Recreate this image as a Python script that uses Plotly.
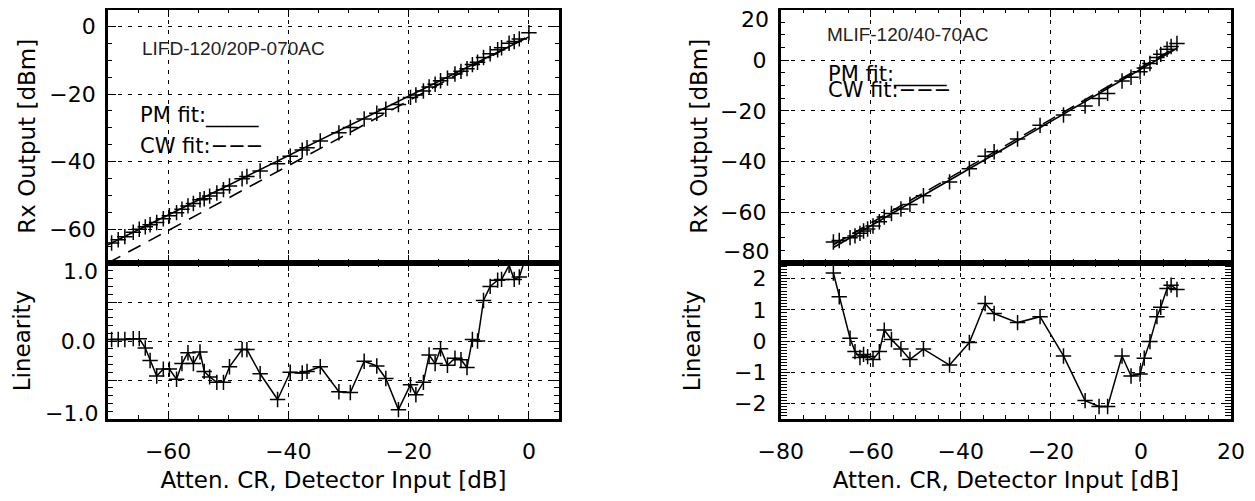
import plotly.graph_objects as go

# ---------------- data ----------------
# Left instrument: LIFD-120/20P-070AC
left_x = [-69.4, -68.3, -67.2, -65.8, -64.8, -63.8, -63.0, -61.9, -60.8, -59.8,
          -58.6, -57.7, -56.7, -55.8, -54.7, -54.0, -53.1, -51.9, -50.8, -49.8,
          -47.7, -46.9, -44.7, -41.8, -39.7, -37.7, -36.9, -34.7, -31.6, -29.7,
          -27.4, -25.3, -23.8, -21.7, -19.7, -18.8, -17.55, -16.6, -15.6, -14.7,
          -13.55, -12.3, -11.3, -10.3, -9.4, -8.55, -7.55, -6.45, -5.2, -4.55,
          -3.3, -2.45, -1.6, 0.0]
left_rx = [-64.1, -63.1, -62.2, -60.9, -60.0, -59.3, -58.7, -58.0, -56.9, -56.0,
           -55.1, -54.1, -53.1, -52.4, -51.3, -51.0, -50.2, -49.3, -48.3, -47.2,
           -45.1, -44.4, -42.8, -40.6, -38.4, -36.6, -35.9, -33.9, -31.5, -29.9,
           -27.4, -25.7, -24.5, -23.1, -21.0, -20.3, -19.1, -17.9, -17.1, -16.1,
           -15.3, -14.1, -13.3, -12.5, -11.3, -10.6, -9.2, -8.1, -6.9, -6.3,
           -5.0, -4.5, -3.7, -1.9]
left_lin = [0.02, 0.02, 0.02, 0.03, 0.03, -0.09, -0.25, -0.45, -0.36, -0.36,
            -0.49, -0.29, -0.15, -0.29, -0.14, -0.39, -0.46, -0.53, -0.53, -0.33,
            -0.11, -0.11, -0.42, -0.75, -0.40, -0.41, -0.39, -0.33, -0.65, -0.66,
            -0.26, -0.32, -0.48, -0.88, -0.56, -0.69, -0.53, -0.18, -0.29, -0.10,
            -0.31, -0.22, -0.24, -0.34, 0.02, 0.00, 0.52, 0.70, 0.78, 0.79,
            0.97, 0.79, 0.82, 1.20]
left_pm_fit_x = [-70.0, 0.0]
left_pm_fit_y = [-64.6, -3.1]
left_cw_fit_x = [-70.0, 0.0]
left_cw_fit_y = [-70.0, -2.8]

# Right instrument: MLIF-120/40-70AC
right_x = [-68.3, -67.0, -64.6, -63.5, -62.4, -61.6, -60.7, -59.5, -58.1, -57.0,
           -55.4, -53.3, -51.3, -48.3, -42.5, -38.1, -34.6, -32.6, -27.4, -22.4,
           -17.2, -12.4, -9.3, -7.4, -4.2, -2.2, -0.2, 0.74, 2.0, 3.55,
           4.4, 5.8, 6.7, 8.0]
right_rx = [-71.7, -71.1, -70.0, -69.3, -68.3, -67.4, -66.6, -65.4, -63.7, -61.9,
            -60.5, -58.7, -56.9, -53.5, -48.0, -42.8, -37.9, -36.1, -31.1, -25.7,
            -21.6, -18.1, -15.1, -13.1, -8.2, -6.7, -4.6, -3.1, -1.3, 1.1,
            2.3, 4.3, 5.4, 6.6]
right_lin = [2.18, 1.42, 0.09, -0.34, -0.53, -0.43, -0.50, -0.59, -0.34, 0.35,
             0.05, -0.26, -0.59, -0.26, -0.77, -0.05, 1.20, 0.88, 0.59, 0.78,
             -0.48, -1.91, -2.10, -2.10, -0.48, -1.12, -1.06, -0.55, -0.02, 0.78,
             1.08, 1.68, 1.79, 1.65]
right_pm_fit_x = [-68.3, 8.0]
right_pm_fit_y = [-73.9, 4.7]
right_cw_fit_x = [-68.3, 8.0]
right_cw_fit_y = [-72.8, 5.3]

left_label = "LIFD-120/20P-070AC"
right_label = "MLIF-120/40-70AC"
x_title = "Atten. CR, Detector Input [dB]"
y_top_title = "Rx Output [dBm]"
y_bot_title = "Linearity"

left_xticks = [-60, -40, -20, 0]
right_xticks = [-80, -60, -40, -20, 0, 20]
left_top_yticks = [0, -20, -40, -60]
left_bot_yticks = [-1.0, -0.5, 0.0, 0.5, 1.0]
left_bot_ytext = ["", "", "0.0", "", ""]
right_top_yticks = [20, 0, -20, -40, -60, -80]
right_top_ytext = ["", "0", "\u221220", "\u221240", "\u221260", ""]
right_bot_yticks = [-2, -1, 0, 1, 2]


def mtxt(v):
    s = ("%g" % abs(v))
    return ("\u2212" + s) if v < 0 else s


# ---------------- styling ----------------
# the page body has an 8px margin, so the figure is laid out in a 1239x485 box
OFF = 8
W, H = 1255 - 2 * OFF, 501 - 2 * OFF
FONT = "DejaVu Sans"
TICK_SIZE = 22
TITLE_SIZE = 23

def fx(p):
    return (p - OFF) / W

def fy(p):
    return 1 - (p - OFF) / H

dom_xl = [fx(108), fx(559)]
dom_xr = [fx(780.7), fx(1231)]
dom_top = [fy(263), fy(9.5)]
dom_bot = [fy(419), fy(263)]

def axis(**kw):
    base = dict(showline=True, linewidth=2.6, linecolor="black", mirror="allticks",
                ticks="inside", ticklen=8, tickwidth=1.4, tickcolor="black",
                showgrid=True, gridcolor="black", gridwidth=1, griddash="4px,6px",
                zeroline=False, automargin=False,
                tickfont=dict(family=FONT, size=TICK_SIZE, color="black"),
                fixedrange=True)
    base.update(kw)
    return base

marker = dict(symbol="cross-thin", size=11, color="black",
              line=dict(width=1.5, color="black"))

fig = go.Figure()

# left bottom (x, y)
fig.add_trace(go.Scatter(x=left_x, y=left_lin, mode="lines+markers", marker=marker,
                         line=dict(color="black", width=1.5), xaxis="x", yaxis="y"))
# left top (x2, y2)
fig.add_trace(go.Scatter(x=left_pm_fit_x, y=left_pm_fit_y, mode="lines",
                         line=dict(color="black", width=1.6), xaxis="x2", yaxis="y2"))
fig.add_trace(go.Scatter(x=left_cw_fit_x, y=left_cw_fit_y, mode="lines",
                         line=dict(color="black", width=1.6, dash="14px,9px"),
                         xaxis="x2", yaxis="y2"))
fig.add_trace(go.Scatter(x=left_x, y=left_rx, mode="markers", marker=marker,
                         xaxis="x2", yaxis="y2"))
# right bottom (x3, y3)
fig.add_trace(go.Scatter(x=right_x, y=right_lin, mode="lines+markers", marker=marker,
                         line=dict(color="black", width=1.5), xaxis="x3", yaxis="y3"))
# right top (x4, y4)
fig.add_trace(go.Scatter(x=right_pm_fit_x, y=right_pm_fit_y, mode="lines",
                         line=dict(color="black", width=1.6), xaxis="x4", yaxis="y4"))
fig.add_trace(go.Scatter(x=right_cw_fit_x, y=right_cw_fit_y, mode="lines",
                         line=dict(color="black", width=1.6, dash="14px,8px"),
                         xaxis="x4", yaxis="y4"))
fig.add_trace(go.Scatter(x=right_x, y=right_rx, mode="markers", marker=marker,
                         xaxis="x4", yaxis="y4"))

title_font = dict(family=FONT, size=TITLE_SIZE, color="black")
minor5 = dict(ticks="inside", dtick=5, tick0=0, ticklen=4, tickwidth=1.2,
              tickcolor="black", showgrid=False)

fig.update_layout(
    template="none",
    width=W, height=H, margin=dict(l=0, r=0, t=0, b=0, autoexpand=False),
    paper_bgcolor="white", plot_bgcolor="white", showlegend=False,
    xaxis=axis(domain=dom_xl, range=[-70, 5], anchor="y",
               tickvals=left_xticks, ticktext=[mtxt(v) for v in left_xticks],
               ticklabelstandoff=11, minor=minor5,
               title=dict(text=x_title, font=title_font, standoff=9)),
    yaxis=axis(domain=dom_bot, range=[-1.0, 1.0], anchor="x",
               tickvals=left_bot_yticks, ticktext=left_bot_ytext,
               ticklabelstandoff=5, ticklen=9,
               minor=dict(ticks="inside", dtick=0.1, tick0=0, ticklen=5, tickwidth=1.2,
                          tickcolor="black", showgrid=False),
               title=dict(text=y_bot_title, font=title_font, standoff=24)),
    xaxis2=axis(domain=dom_xl, range=[-70, 5], anchor="y2", matches="x",
                tickvals=left_xticks, showticklabels=False, minor=minor5),
    yaxis2=axis(domain=dom_top, range=[-70, 5], anchor="x2",
                tickvals=left_top_yticks, ticktext=[mtxt(v) for v in left_top_yticks],
                ticklabelstandoff=5, minor=minor5,
                title=dict(text=y_top_title, font=title_font, standoff=8)),
    xaxis3=axis(domain=dom_xr, range=[-80, 20], anchor="y3",
                tickvals=right_xticks, ticktext=[mtxt(v) for v in right_xticks],
                ticklabelstandoff=11, minor=minor5,
                title=dict(text=x_title, font=title_font, standoff=9)),
    yaxis3=axis(domain=dom_bot, range=[-2.5, 2.5], anchor="x3",
                tickvals=right_bot_yticks, ticktext=[mtxt(v) for v in right_bot_yticks],
                ticklabelstandoff=7, ticklen=9,
                minor=dict(ticks="inside", dtick=0.1, tick0=0, ticklen=6, tickwidth=1,
                           tickcolor="black", showgrid=False),
                title=dict(text=y_bot_title, font=title_font, standoff=28)),
    xaxis4=axis(domain=dom_xr, range=[-80, 20], anchor="y4", matches="x3",
                tickvals=right_xticks, showticklabels=False, minor=minor5),
    yaxis4=axis(domain=dom_top, range=[-80, 20], anchor="x4",
                tickvals=right_top_yticks, ticktext=right_top_ytext,
                ticklabelstandoff=7, minor=minor5,
                title=dict(text=y_top_title, font=title_font, standoff=7)),
)

ann = []
lab_font = dict(family="Liberation Sans", size=19, color="#222222")
leg_font = dict(family=FONT, size=21, color="black")
ann.append(dict(text=left_label, x=-64.7, y=-6.6, xref="x2", yref="y2",
                xanchor="left", yanchor="middle", showarrow=False, font=lab_font))
ann.append(dict(text=right_label, x=-70.2, y=10.0, xref="x4", yref="y4",
                xanchor="left", yanchor="middle", showarrow=False, font=lab_font))
ann.append(dict(text="PM fit:_____", x=-65.0, y=-26.5, xref="x2", yref="y2",
                xanchor="left", yanchor="middle", showarrow=False, font=leg_font))
ann.append(dict(text="CW fit:\u2212\u2212\u2212", x=-65.0, y=-35.3, xref="x2", yref="y2",
                xanchor="left", yanchor="middle", showarrow=False, font=leg_font))
ann.append(dict(text="PM fit:_____", x=-70.0, y=-5.8, xref="x4", yref="y4",
                xanchor="left", yanchor="middle", showarrow=False, font=leg_font))
ann.append(dict(text="CW fit:\u2212\u2212\u2212", x=-70.0, y=-11.8, xref="x4", yref="y4",
                xanchor="left", yanchor="middle", showarrow=False, font=leg_font))
# edge tick labels (drawn shifted inward, as in the original)
edge = [("x domain", "y", 1.0, -8.5, 8), ("x domain", "y", -1.0, 6, 8),
        ("x4 domain", "y4", 20, -10, 10), ("x4 domain", "y4", -80, 12, 10)]
for xr, yr, val, ys, xs in edge:
    ann.append(dict(text=("%.1f" % val).replace("-", "\u2212") if yr == "y" else mtxt(val),
                    x=0, y=val, xref=xr, yref=yr, xanchor="right", yanchor="middle",
                    xshift=-xs, yshift=ys, showarrow=False,
                    font=dict(family=FONT, size=TICK_SIZE, color="black")))
fig.update_layout(annotations=ann)

fig.write_html("out.html")
